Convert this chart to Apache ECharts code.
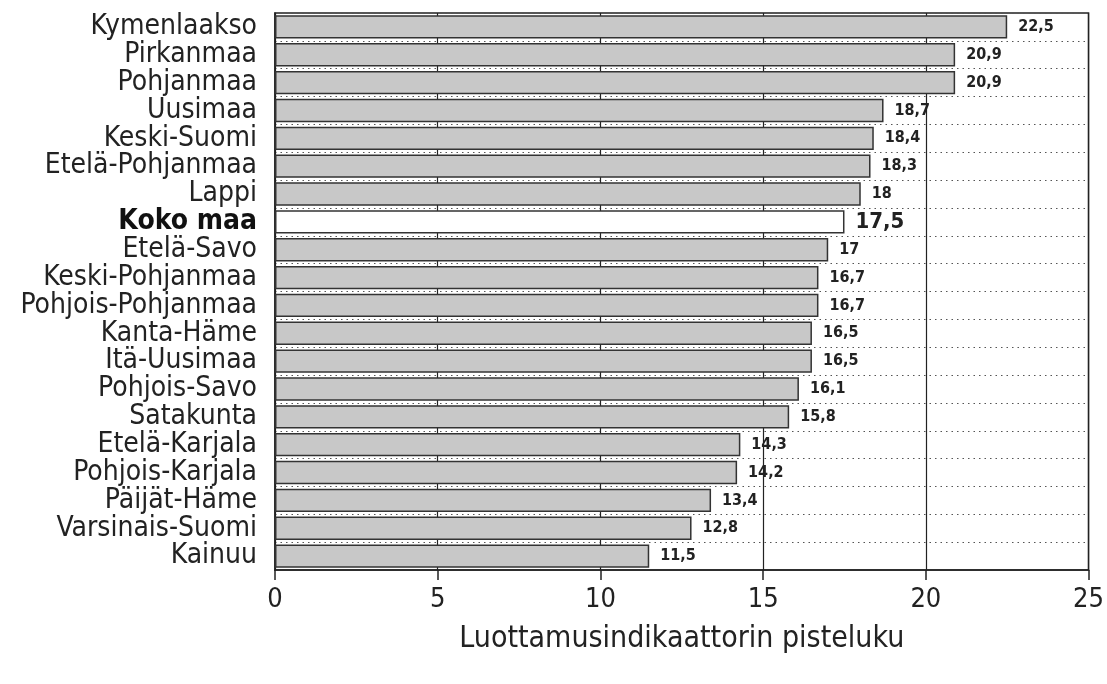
<!DOCTYPE html>
<html><head><meta charset="utf-8">
<script src="https://cdn.jsdelivr.net/npm/echarts@6/dist/echarts.min.js"></script>
<style>html,body{margin:0;padding:0;background:#fff}#c{width:1107px;height:684px}</style>
</head><body><div id="c"></div>
<script>
const categories = ["Kymenlaakso","Pirkanmaa","Pohjanmaa","Uusimaa","Keski-Suomi","Etelä-Pohjanmaa","Lappi","Koko maa","Etelä-Savo","Keski-Pohjanmaa","Pohjois-Pohjanmaa","Kanta-Häme","Itä-Uusimaa","Pohjois-Savo","Satakunta","Etelä-Karjala","Pohjois-Karjala","Päijät-Häme","Varsinais-Suomi","Kainuu"];
const values = [22.5,20.9,20.9,18.7,18.4,18.3,18,17.5,17,16.7,16.7,16.5,16.5,16.1,15.8,14.3,14.2,13.4,12.8,11.5];
const highlight = "Koko maa";
const axisTitle = "Luottamusindikaattorin pisteluku";

const FONT = '"Liberation Sans Narrow","DejaVu Sans Condensed","Liberation Sans",sans-serif';
const chart = echarts.init(document.getElementById('c'));
const fmt = v => String(v).replace('.', ',');
chart.setOption({
  animation: false,
  grid: {left: 275, right: 16, top: 13, bottom: 114, show: true, borderColor: '#222', borderWidth: 1.5},
  xAxis: {
    type: 'value', min: 0, max: 25, interval: 5,
    axisLine: {show: true, lineStyle: {color: '#222', width: 1.5}},
    axisTick: {show: true, length: 10, lineStyle: {color: '#222', width: 1.5}},
    axisLabel: {fontFamily: FONT, fontSize: 27, color: '#222', margin: 16},
    splitLine: {show: true, lineStyle: {color: '#222', width: 1.2}},
    name: axisTitle, nameLocation: 'middle', nameGap: 54,
    nameTextStyle: {fontFamily: FONT, fontSize: 30, color: '#222'}
  },
  yAxis: {
    type: 'category', data: categories, inverse: true,
    axisLine: {show: true, lineStyle: {color: '#222', width: 1.5}},
    axisTick: {show: false},
    axisLabel: {
      interval: 0,
      fontFamily: FONT, fontSize: 28, color: '#222', margin: 18,
      formatter: v => v === highlight ? '{b|' + v + '}' : v,
      rich: {b: {fontFamily: FONT, fontSize: 28, fontWeight: 'bold', color: '#111'}}
    },
    splitLine: {show: true, interval: 0, lineStyle: {color: '#555', width: 1, type: [1.5, 4]}}
  },
  series: [{
    type: 'bar', barCategoryGap: '16%',
    data: values.map((v, i) => {
      const hi = categories[i] === highlight;
      return {
        value: v,
        itemStyle: {color: hi ? '#ffffff' : '#c8c8c8', borderColor: '#333', borderWidth: 1.5},
        label: hi ? {fontSize: 22, fontWeight: 'bold'} : {}
      };
    }),
    label: {
      show: true, position: 'right', distance: 11,
      fontFamily: FONT, fontSize: 16, fontWeight: 'bold', color: '#222',
      formatter: p => fmt(p.value)
    }
  }]
});
</script></body></html>
